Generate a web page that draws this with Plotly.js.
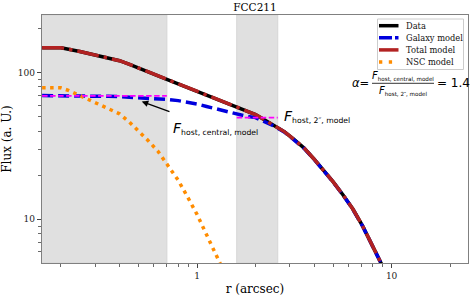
<!DOCTYPE html>
<html><head><meta charset="utf-8">
<script src="https://cdn.plot.ly/plotly-3.0.1.min.js"></script>
<style>html,body{margin:0;padding:0;background:#fff}#chart{width:473px;height:296px}</style>
</head><body><div id="chart"></div>
<script>
// ---- data ----
const radius = [0.16,0.18,0.20,0.25,0.30,0.35,0.40,0.45,0.50,0.56,0.63,0.71,0.80,0.90,1.00,1.12,1.26,1.41,1.58,1.78,2.00,2.24,2.51,2.82,3.16,3.55,3.98,4.47,5.01,5.62,6.31,7.08,7.94,8.91,10.0];
const dataFlux   = [148,148,148,139.5,131.5,126,120.7,114,107.5,101.5,95.5,89.5,84,79,74.5,70.5,66,62,58.5,55,51.8,47.4,43.5,39.5,35.0,30.6,25.9,21.6,18.0,14.7,11.8,9.06,6.7,5.0,3.6];
const totalFlux  = [148,148,148,139.5,131.5,126,120.7,114,107.5,101.5,95.5,89.5,84,79,74.5,70.5,66,62,58.5,55,51.8,47.4,43.5,39.5,35.0,30.6,25.9,21.6,18.0,14.7,11.8,9.06,6.7,5.0,3.6];
const galaxyFlux = [69.8,69.8,69.7,69.6,69.4,69.0,68.7,68.2,67.8,67.2,66.4,65.6,64.5,62.8,61.2,58.8,56.5,54.5,52.2,50.6,49.4,46.0,43.0,39.3,34.9,30.5,25.8,21.5,17.95,14.65,11.75,9.03,6.68,4.99,3.6];
const nscRadius  = [0.16,0.18,0.20,0.22,0.25,0.30,0.35,0.40,0.45,0.50,0.56,0.63,0.71,0.80,0.90,1.00,1.12,1.26,1.41,1.58,1.78,2.00];
const nscFlux    = [79,79,78.8,75.5,70,62.5,57,52.4,46,40.2,34.5,29.1,23.4,18.5,14.0,10.8,7.85,5.7,4.1,2.8,1.9,1.25];
const centralSpan = [0.16, 0.70];
const centralLevel = 69.5;
const ringSpan = [1.6, 2.6];
const ringLevel = 49.4;
const shadedRegions = [[0.1, 0.70], [1.6, 2.6]];
const alphaValue = 1.4;
const xTickVals = [1, 10], xTickText = ['1', '10'];
const xMinorVals = [0.2,0.3,0.4,0.5,0.6,0.7,0.8,0.9,2,3,4,5,6,7,8,9,20];
const yTickVals = [10, 100], yTickText = ['10', '100'];
const yMinorVals = [6,7,8,9,20,30,40,50,60,70,80,90,200];
const legendNames = ['Data', 'Galaxy model', 'Total model', 'NSC model'];

// ---- layout geometry ----
const W = 473, H = 296, L = 42, R = 5, T = 15, B = 33;
const PW = W - L - R, PH = H - T - B;
const px = x => (x - L) / PW;
const py = y => (H - B - y) / PH;

const serif = 'DejaVu Serif';
const sans = 'DejaVu Sans';

const styles = {
  'Data': {color: '#000000', width: 3.5, dash: 'solid'},
  'Galaxy model': {color: '#0000dd', width: 3.5, dash: '11px,5px'},
  'Total model': {color: '#b22222', width: 3.5, dash: '22px,5px,3.5px,5px'},
  'NSC model': {color: '#ff8c00', width: 3.5, dash: '3.5px,4.5px'}
};
const magenta = '#ff00ff';

const traces = [
  {x: radius, y: dataFlux, name: 'Data', mode: 'lines', line: styles['Data']},
  {x: radius, y: galaxyFlux, name: 'Galaxy model', mode: 'lines', line: styles['Galaxy model']},
  {x: radius, y: totalFlux, name: 'Total model', mode: 'lines', line: styles['Total model']},
  {x: nscRadius, y: nscFlux, name: 'NSC model', mode: 'lines', line: styles['NSC model']},
  {x: centralSpan, y: [centralLevel, centralLevel], mode: 'lines', line: {color: magenta, width: 1.8, dash: '5.5px,2.5px'}},
  {x: ringSpan, y: [ringLevel, ringLevel], mode: 'lines', line: {color: magenta, width: 1.8, dash: '5.5px,2.5px'}}
].map(t => Object.assign(t, {showlegend: false, hoverinfo: 'skip', cliponaxis: true}));

const shapes = shadedRegions.map(([a, b]) => ({
  type: 'rect', xref: 'x', yref: 'paper', x0: a, x1: b, y0: 0, y1: 1,
  fillcolor: '#e0e0e0', line: {color: '#d6d6d6', width: 1}, layer: 'below'
}));

// legend box
const lgX0 = 377.5, lgX1 = 463.5, lgY0 = 19, lgY1 = 69.5;
shapes.push({type: 'rect', xref: 'paper', yref: 'paper', x0: px(lgX0), x1: px(lgX1), y0: py(lgY1), y1: py(lgY0),
  fillcolor: 'rgba(255,255,255,0.85)', line: {color: '#cccccc', width: 1}, layer: 'above'});
const annotations = [];
legendNames.forEach((n, i) => {
  const yy = 25.7 + i * 12.1;
  shapes.push({type: 'line', xref: 'paper', yref: 'paper', x0: px(379), x1: px(398.5), y0: py(yy), y1: py(yy),
    line: {color: styles[n].color, width: styles[n].width, dash: n === 'Galaxy model' ? '13px,3px' : (n === 'NSC model' ? '3.3px,6.5px' : 'solid')}, layer: 'above'});
  annotations.push({xref: 'paper', yref: 'paper', x: px(403.5), y: py(yy), xanchor: 'left', yanchor: 'middle',
    text: n, showarrow: false, font: {family: serif, size: 8.3, color: '#111'}});
});

// fraction bar
shapes.push({type: 'line', xref: 'paper', yref: 'paper', x0: px(372), x1: px(434), y0: py(83.3), y1: py(83.3),
  line: {color: '#000', width: 0.8}, layer: 'above'});

const fLabel = (sub, big) => '<span style="font-size:' + big + 'px"><i>F</i></span><sub>' + sub + '</sub>';

annotations.push(
  {xref: 'paper', yref: 'paper', x: px(171), y: py(128), xanchor: 'left', yanchor: 'middle', showarrow: false,
   text: fLabel('host, central, model', 14), font: {family: sans, size: 11, color: '#000'}},
  {xref: 'x', yref: 'y', x: Math.log10(0.52), y: Math.log10(63.6), ax: Math.log10(0.735), ay: Math.log10(53.8),
   axref: 'x', ayref: 'y', text: '', showarrow: true, arrowhead: 2, arrowsize: 1, arrowwidth: 1.3, arrowcolor: '#000'},
  {xref: 'paper', yref: 'paper', x: px(282), y: py(117), xanchor: 'left', yanchor: 'middle', showarrow: false,
   text: fLabel('host, 2\u2033, model', 14), font: {family: sans, size: 11, color: '#000'}},
  {xref: 'paper', yref: 'paper', x: px(350.5), y: py(82.5), xanchor: 'left', yanchor: 'middle', showarrow: false,
   text: '<i>\u03b1</i>=', font: {family: sans, size: 11.5, color: '#000'}, borderpad: 0},
  {xref: 'paper', yref: 'paper', x: px(403), y: py(83), xanchor: 'center', yanchor: 'bottom', showarrow: false,
   text: fLabel('host, central, model', 10), font: {family: sans, size: 8, color: '#000'}, borderpad: 0},
  {xref: 'paper', yref: 'paper', x: px(403), y: py(84), xanchor: 'center', yanchor: 'top', showarrow: false,
   text: fLabel('host, 2\u2033, model', 10), font: {family: sans, size: 8, color: '#000'}, borderpad: 0},
  {xref: 'paper', yref: 'paper', x: px(436), y: py(82.5), xanchor: 'left', yanchor: 'middle', showarrow: false,
   text: '= ' + alphaValue.toFixed(1), font: {family: sans, size: 12, color: '#000'}, borderpad: 0}
);

const axisCommon = {
  type: 'log', showgrid: false, zeroline: false, showline: true, mirror: true,
  linecolor: '#808080', linewidth: 1.3, ticks: 'outside', ticklen: 4, tickwidth: 1, tickcolor: '#444',
  tickfont: {family: serif, size: 9, color: '#222'}
};

const layout = {
  width: W, height: H, margin: {l: L, r: R, t: T, b: B},
  paper_bgcolor: '#fff', plot_bgcolor: '#fff', showlegend: false,
  title: {text: 'FCC211', font: {family: serif, size: 10.5, color: '#000'}, x: 0.5 * (L + W - R) / W, xanchor: 'center', y: 1 - 7.5 / H, yanchor: 'middle'},
  xaxis: Object.assign({}, axisCommon, {
    range: [-0.7965, 1.3926], tickmode: 'array', tickvals: xTickVals, ticktext: xTickText,
    minor: {tickmode: 'array', tickvals: xMinorVals, ticks: 'outside', ticklen: 2.5, tickwidth: 0.8, tickcolor: '#444', showgrid: false},
    title: {text: 'r (arcsec)', font: {family: serif, size: 12, color: '#000'}, standoff: 6}
  }),
  yaxis: Object.assign({}, axisCommon, {
    range: [0.702, 2.3936], tickmode: 'array', tickvals: yTickVals, ticktext: yTickText,
    minor: {tickmode: 'array', tickvals: yMinorVals, ticks: 'outside', ticklen: 2.5, tickwidth: 0.8, tickcolor: '#444', showgrid: false},
    title: {text: 'Flux (a. U.)', font: {family: serif, size: 12, color: '#000'}, standoff: 8}
  }),
  shapes: shapes, annotations: annotations
};

Plotly.newPlot('chart', traces, layout, {staticPlot: true, displayModeBar: false});
</script></body></html>
